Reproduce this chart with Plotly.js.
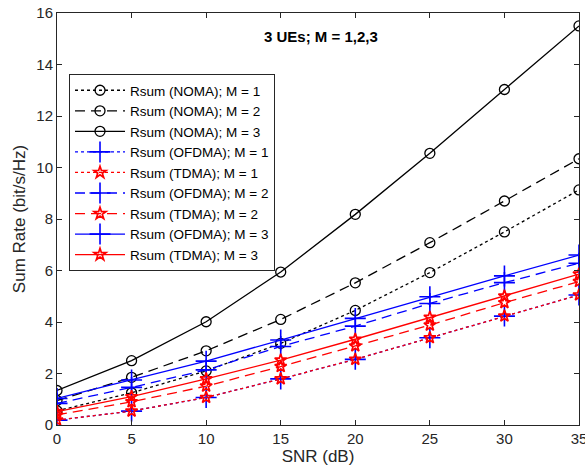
<!DOCTYPE html>
<html>
<head>
<meta charset="utf-8">
<script src="https://cdn.plot.ly/plotly-3.0.1.min.js"></script>
<style>html,body{margin:0;padding:0;background:#fff;}#chart{width:585px;height:474px;}</style>
</head>
<body>
<div id="chart"></div>
<script>
const snr = [0, 5, 10, 15, 20, 25, 30, 35];
const nomaM1 = [0.55, 1.25, 2.10, 3.17, 4.45, 5.92, 7.50, 9.13];
const nomaM2 = [0.95, 1.85, 2.88, 4.10, 5.52, 7.08, 8.70, 10.34];
const nomaM3 = [1.34, 2.50, 4.01, 5.94, 8.18, 10.55, 13.03, 15.50];
const ofdmaM1 = [0.19, 0.54, 1.07, 1.79, 2.55, 3.39, 4.23, 5.05];
const tdmaM1 = [0.19, 0.54, 1.07, 1.79, 2.55, 3.39, 4.23, 5.05];
const ofdmaM2 = [0.84, 1.46, 2.14, 3.05, 3.84, 4.72, 5.53, 6.28];
const tdmaM2 = [0.39, 0.90, 1.51, 2.27, 3.07, 3.88, 4.75, 5.57];
const ofdmaM3 = [1.03, 1.75, 2.48, 3.30, 4.14, 4.98, 5.79, 6.60];
const tdmaM3 = [0.52, 1.10, 1.79, 2.52, 3.33, 4.18, 5.01, 5.86];
const xTicks = [0, 5, 10, 15, 20, 25, 30, 35];
const yTicks = [0, 2, 4, 6, 8, 10, 12, 14, 16];

const DASH = '10px,6px';
const FONT = 'Liberation Sans, Arial, sans-serif';
function tr(name, y, color, dash, symbol, msize, mlw) {
  return {
    x: snr, y: y, name: name, type: 'scatter', mode: 'lines+markers',
    line: {color: color, width: 1.3, dash: dash},
    marker: {symbol: symbol, size: msize, color: color, line: {color: color, width: mlw}}
  };
}
const data = [
  tr('Rsum (NOMA); M = 1', nomaM1, '#000000', 'dot', 'circle-open', 10, 1.3),
  tr('Rsum (NOMA); M = 2', nomaM2, '#000000', DASH, 'circle-open', 10, 1.3),
  tr('Rsum (NOMA); M = 3', nomaM3, '#000000', 'solid', 'circle-open', 10, 1.3),
  tr('Rsum (OFDMA); M = 1', ofdmaM1, '#0000ff', 'dot', 'cross-thin-open', 15, 1.6),
  tr('Rsum (TDMA); M = 1', tdmaM1, '#ff0000', 'dot', 'star-open', 9, 1.7),
  tr('Rsum (OFDMA); M = 2', ofdmaM2, '#0000ff', DASH, 'cross-thin-open', 15, 1.6),
  tr('Rsum (TDMA); M = 2', tdmaM2, '#ff0000', DASH, 'star-open', 9, 1.7),
  tr('Rsum (OFDMA); M = 3', ofdmaM3, '#0000ff', 'solid', 'cross-thin-open', 15, 1.6),
  tr('Rsum (TDMA); M = 3', tdmaM3, '#ff0000', 'solid', 'star-open', 9, 1.7)
];
const axisCommon = {
  showgrid: false, zeroline: false, showline: true, mirror: 'ticks',
  linecolor: '#262626', linewidth: 1, ticks: 'inside', ticklen: 5, tickcolor: '#262626',
  ticklabeloverflow: 'allow',
  tickfont: {family: FONT, size: 15, color: '#262626'}
};
const layout = {
  width: 585, height: 474,
  margin: {l: 57, r: 6, t: 13, b: 49},
  paper_bgcolor: '#ffffff', plot_bgcolor: '#ffffff',
  font: {family: FONT, color: '#262626'},
  showlegend: true,
  xaxis: Object.assign({}, axisCommon, {
    range: [0, 35], tickvals: xTicks, ticktext: xTicks.map(String),
    title: {text: 'SNR (dB)', font: {size: 17, color: '#262626'}, standoff: 2}
  }),
  yaxis: Object.assign({}, axisCommon, {
    range: [0, 16], tickvals: yTicks, ticktext: yTicks.map(String),
    title: {text: 'Sum Rate (bit/s/Hz)', font: {size: 17, color: '#262626'}, standoff: 6}
  }),
  legend: {
    x: 0.023, y: 0.852, xanchor: 'left', yanchor: 'top',
    bgcolor: '#ffffff', bordercolor: '#262626', borderwidth: 1,
    font: {family: FONT, size: 13.5, color: '#000000'},
    tracegroupgap: 0, itemwidth: 50
  },
  annotations: [{
    text: '<b>3 UEs; M = 1,2,3</b>', xref: 'paper', yref: 'paper',
    x: 0.505, y: 0.942, xanchor: 'center', yanchor: 'middle', showarrow: false,
    font: {family: FONT, size: 15, color: '#000000'}
  }]
};
Plotly.newPlot('chart', data, layout, {displayModeBar: false, staticPlot: true});
</script>
</body>
</html>
